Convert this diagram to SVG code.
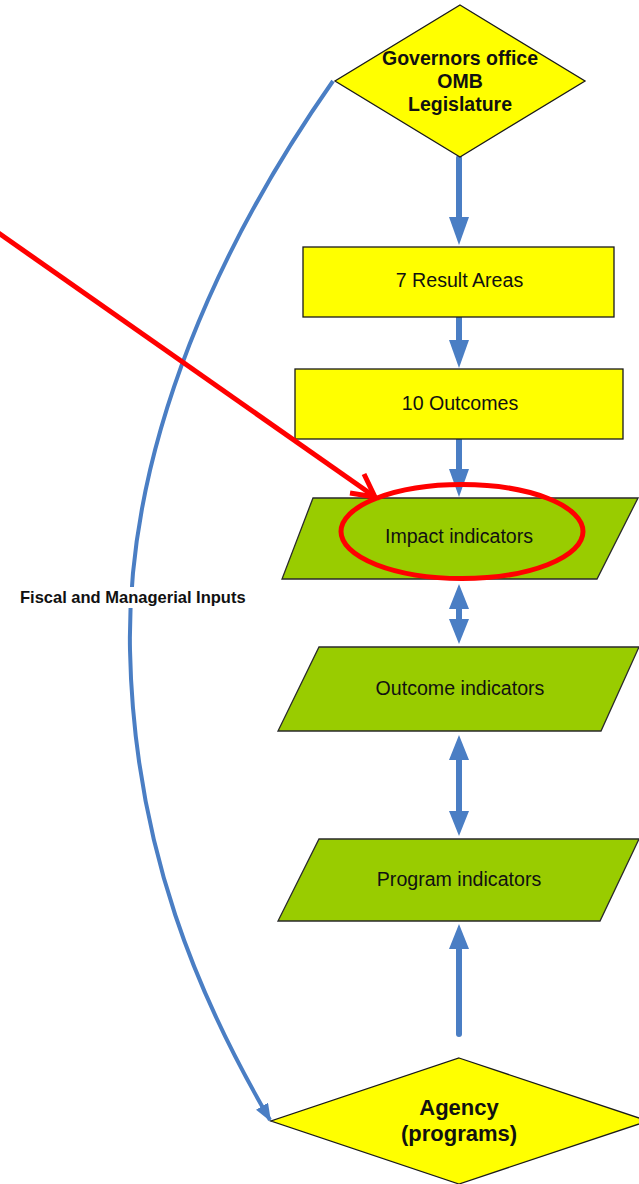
<svg xmlns="http://www.w3.org/2000/svg" width="639" height="1184" viewBox="0 0 639 1184">
  <style>
    .t { font-family: "Liberation Sans", Arial, sans-serif; fill: #111; text-anchor: middle; }
    .r { font-size: 19.6px; }
    .b { font-weight: bold; }
    .yellow { fill: #FFFF00; stroke: #1a1a1a; stroke-width: 1.3; }
    .green { fill: #99CC00; stroke: #2a2a2a; stroke-width: 1.3; }
    .flow { stroke: #4A7EC4; stroke-width: 6; fill: none; stroke-linecap: round; }
    .curve { stroke: #4A7EC4; stroke-width: 4; fill: none; }
    .red { stroke: #FF0000; stroke-width: 5; fill: none; }
  </style>
  <defs>
    <marker id="head" viewBox="0 0 28 20" refX="1" refY="10" markerWidth="28" markerHeight="20" markerUnits="userSpaceOnUse" orient="auto-start-reverse">
      <path d="M0,0 L28,10 L0,20 Z" fill="#4A7EC4"/>
    </marker>
    <marker id="head2" viewBox="0 0 25 20" refX="1" refY="10" markerWidth="25" markerHeight="20" markerUnits="userSpaceOnUse" orient="auto-start-reverse">
      <path d="M0,0 L25,10 L0,20 Z" fill="#4A7EC4"/>
    </marker>
    <marker id="curvehead" viewBox="0 0 18 14" refX="16" refY="7" markerWidth="18" markerHeight="14" markerUnits="userSpaceOnUse" orient="auto">
      <path d="M0,0 L18,7 L0,14 Z" fill="#4A7EC4"/>
    </marker>
  </defs>

  <g id="connectors">
    <path class="curve" d="M333,81 C225,235 126,440 130,650 C134,850 200,1000 270,1120" marker-end="url(#curvehead)"/>
    <line class="flow" x1="459" y1="158" x2="459" y2="218" marker-end="url(#head)"/>
    <line class="flow" x1="459" y1="318" x2="459" y2="341" marker-end="url(#head)"/>
    <line class="flow" x1="459" y1="440" x2="459" y2="470" marker-end="url(#head)"/>
    <line class="flow" x1="459" y1="608" x2="459" y2="620" marker-start="url(#head2)" marker-end="url(#head2)" style="stroke-linecap:butt"/>
    <line class="flow" x1="459" y1="759" x2="459" y2="812" marker-start="url(#head2)" marker-end="url(#head2)" style="stroke-linecap:butt"/>
    <line class="flow" x1="459" y1="1034" x2="459" y2="948" marker-end="url(#head2)"/>
  </g>

  <g id="governors">
    <polygon class="yellow" points="460,5 585,81 460,157 335,81"/>
    <text class="t b" style="font-size:19.5px" x="460" y="65">Governors office</text>
    <text class="t b" style="font-size:19.5px" x="460" y="88">OMB</text>
    <text class="t b" style="font-size:19.5px" x="460" y="111">Legislature</text>
  </g>

  <g id="result-areas">
    <rect class="yellow" x="303" y="247" width="311" height="70"/>
    <text class="t r" x="459.5" y="287">7 Result Areas</text>
  </g>

  <g id="outcomes">
    <rect class="yellow" x="295" y="369" width="328" height="70"/>
    <text class="t r" x="460" y="410">10 Outcomes</text>
  </g>

  <g id="impact-indicators">
    <polygon class="green" points="313,498 638,498 597,579 282,579"/>
    <text class="t r" x="459" y="543">Impact indicators</text>
  </g>

  <g id="outcome-indicators">
    <polygon class="green" points="319,647 639,647 601,731 278,731"/>
    <text class="t r" x="460" y="695">Outcome indicators</text>
  </g>

  <g id="program-indicators">
    <polygon class="green" points="319,839 639,839 600,921 278,921"/>
    <text class="t r" x="459" y="886">Program indicators</text>
  </g>

  <g id="agency">
    <polygon class="yellow" points="459,1058 648,1121 459,1184 271,1121"/>
    <text class="t b" style="font-size:22px" x="459" y="1115">Agency</text>
    <text class="t b" style="font-size:22px" x="459" y="1141">(programs)</text>
  </g>

  <g id="fiscal-label">
    <rect x="18" y="587" width="230" height="21" fill="#FFFFFF"/>
    <text class="t b" style="font-size:16.5px; text-anchor:start" x="20" y="603">Fiscal and Managerial Inputs</text>
  </g>

  <g id="annotation">
    <line class="red" x1="-5" y1="230.5" x2="373" y2="495.5"/>
    <path class="red" d="M364,474 L375,497 L350,493" stroke-linejoin="miter"/>
    <ellipse class="red" cx="462" cy="531.5" rx="121" ry="47"/>
  </g>
</svg>
